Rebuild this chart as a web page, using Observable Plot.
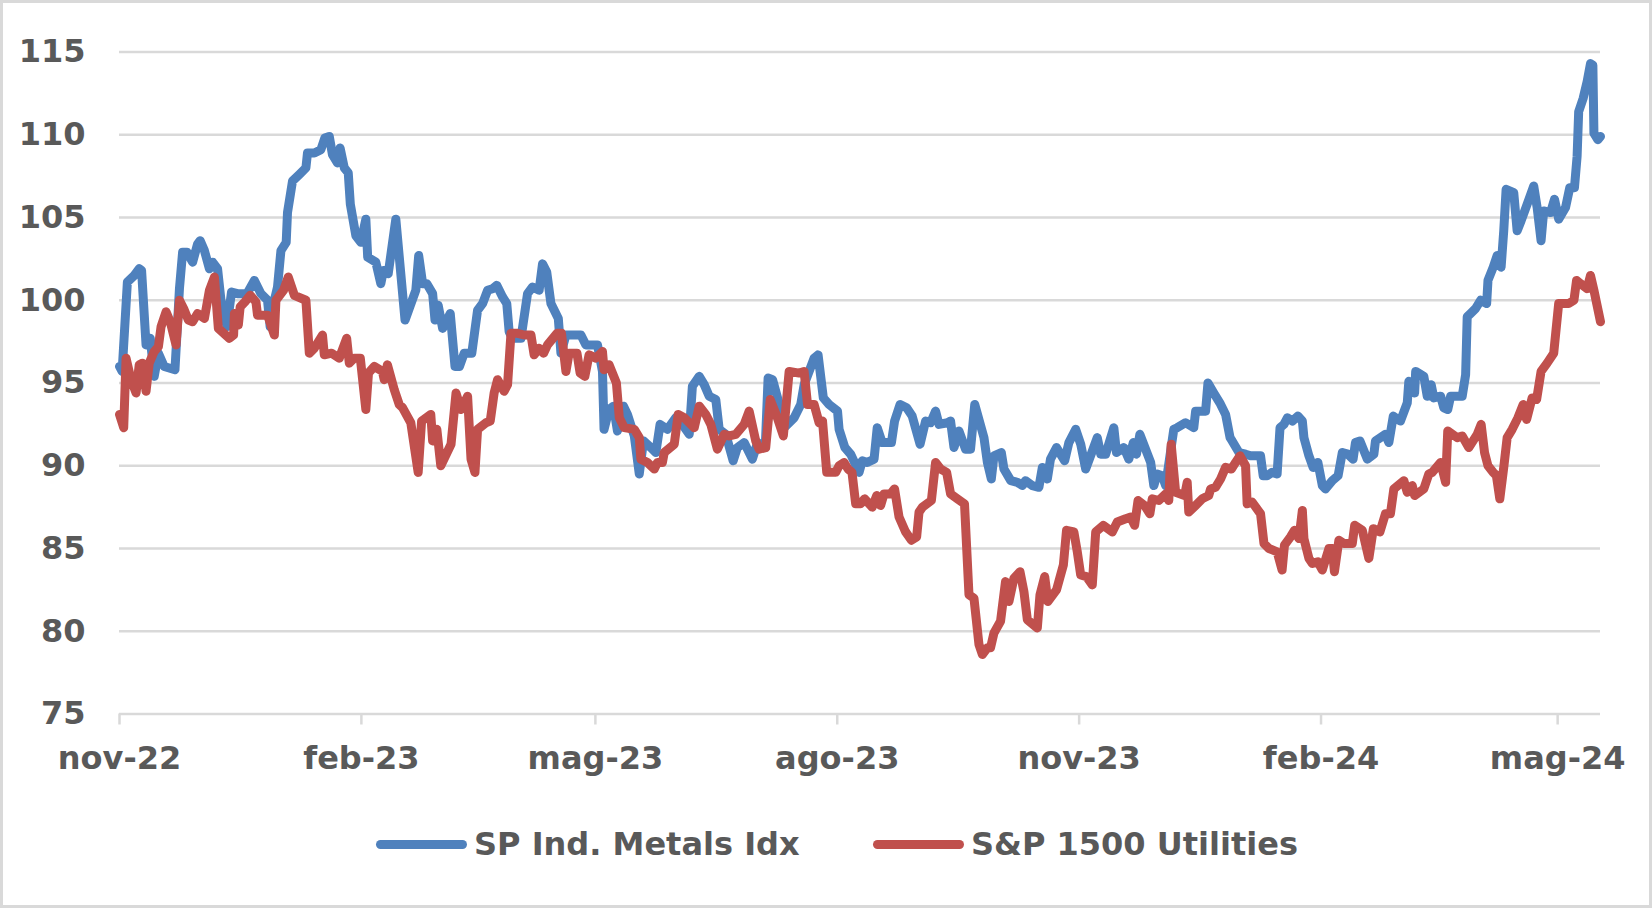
<!DOCTYPE html>
<html>
<head>
<meta charset="utf-8">
<script src="https://cdn.jsdelivr.net/npm/d3@7"></script>
<script src="https://cdn.jsdelivr.net/npm/@observablehq/plot@0.6"></script>
<style>
  html, body { margin: 0; padding: 0; background: #ffffff; }
  #wrap { position: relative; width: 1652px; height: 908px; overflow: hidden; font-family: "DejaVu Sans", sans-serif; background: #fff; }
  #frame { position: absolute; left: 0; top: 0; width: 1652px; height: 908px; box-sizing: border-box; border: 3px solid #d9d9d9; pointer-events: none; }
  #chart svg { display: block; }
  #legend { position: relative; width: 1652px; height: 108px; }
  .item { position: absolute; top: 28px; height: 32px; display: flex; align-items: center; font-size: 32px; font-weight: bold; color: #595959; line-height: 32px; white-space: nowrap; }
  .sw { display: inline-block; width: 91px; height: 9px; border-radius: 4.5px; margin-right: 7px; }
</style>
</head>
<body>
<div id="wrap">
  <div id="chart"></div>
  <div id="legend"></div>
  <div id="frame"></div>
</div>
<script>
// Days since 2022-11-01 and index value
const startDate = "2022-11-01";
const metals = [[0,96.0],[1,95.7],[3,101.1],[5.6,101.5],[7.5,101.9],[8.4,101.8],[10.1,97.3],[11.7,97.7],[13.2,95.4],[14.8,96.8],[17,96.0],[21.1,95.8],[22.8,100.7],[24,102.9],[25.7,102.9],[27.8,102.3],[29.7,103.4],[30.7,103.6],[32.3,103.0],[34.2,101.9],[35.4,102.3],[37.3,101.9],[38.6,100.0],[40.9,98.4],[42.6,100.5],[44.9,100.4],[48.5,100.4],[51.3,101.2],[53.8,100.4],[56.3,100.0],[57.3,98.4],[58.9,100.0],[60.1,100.8],[61.4,103.0],[63.4,103.5],[63.9,105.3],[65.8,107.2],[68.4,107.6],[70.9,108.0],[71.5,108.9],[74.1,108.9],[76.6,109.1],[78.1,109.8],[79.8,109.9],[81,108.8],[82.9,108.3],[83.9,109.2],[85.5,108.0],[87,107.7],[87.8,105.8],[89.9,103.9],[91.8,103.5],[93.7,104.9],[94.4,102.6],[97.5,102.3],[99.4,101.0],[100.4,101.8],[102.2,101.6],[105.1,104.9],[108.6,98.8],[112.7,100.6],[113.8,102.7],[115.3,101.0],[116.9,101.0],[119.1,100.4],[120,98.8],[121.2,99.7],[122.9,98.3],[125.8,99.2],[127.6,96.0],[129.3,96.0],[131.1,96.8],[134,96.8],[136.2,99.4],[138.1,99.8],[140,100.6],[141.9,100.7],[143.5,100.9],[145.7,100.2],[147.3,99.8],[148.2,98.1],[149.5,97.7],[152.7,97.7],[155.2,100.4],[157.1,100.8],[159.6,100.6],[160.9,102.2],[162.5,101.7],[164.1,99.8],[166.9,98.9],[167.9,96.8],[169.8,97.9],[175.5,97.9],[177.4,97.3],[181.8,97.3],[183.7,95.7],[184.3,92.2],[186.2,93.4],[187.9,93.6],[189.4,92.1],[191.7,93.6],[193.2,93.1],[195.8,91.8],[197.7,89.5],[199.3,91.5],[202.1,91.1],[204,90.8],[205.6,92.5],[208.4,92.2],[211.6,92.9],[214.1,92.5],[216.7,91.9],[217.9,94.8],[220.5,95.4],[222.4,94.9],[224.3,94.2],[226.8,94.0],[228.1,92.2],[230.6,91.9],[233.4,90.3],[235,91.1],[237.6,91.4],[240.7,90.4],[242.7,91.4],[245.6,91.1],[246.7,95.3],[248.4,95.2],[250.3,94.1],[252.2,92.2],[254.1,92.5],[256.6,92.9],[259.1,93.7],[260.4,94.9],[264.2,96.5],[265.7,96.7],[267.7,94.1],[269.9,93.7],[273.1,93.3],[273.7,92.2],[275.9,91.1],[278.1,90.7],[281.3,89.6],[282.5,90.3],[284.4,90.2],[287,90.4],[288.2,92.3],[290.1,91.4],[293.6,91.4],[294.8,92.7],[296.9,93.7],[299.4,93.5],[301.5,93.0],[304.5,91.3],[306.6,92.7],[308.5,92.6],[310.4,93.3],[311.7,92.5],[314.9,92.6],[316.1,92.7],[317.4,91.1],[319.3,92.1],[321.8,91.0],[323.7,91.0],[325.3,93.7],[328.8,91.7],[330.1,90.2],[331.6,89.2],[332.6,90.6],[335.4,90.8],[336.4,89.8],[339,89.1],[341.5,89.0],[343.4,88.8],[344.6,89.1],[347.2,88.8],[349.7,88.7],[351,89.9],[352.9,89.2],[354.1,90.4],[356.4,91.1],[359.5,90.3],[361.1,91.4],[363.7,92.2],[365.6,91.3],[367.5,89.8],[371.9,91.7],[373.2,90.7],[375.1,90.7],[378.2,92.3],[379.2,90.8],[382,91.1],[383.9,90.4],[385.6,91.4],[386.8,90.7],[388.1,91.9],[392.2,90.2],[393.4,88.8],[394.7,89.5],[396.6,89.4],[397.9,88.8],[401,92.2],[402.3,92.3],[405.5,92.6],[408.6,92.3],[409.3,93.3],[413.1,93.3],[414,95.0],[416.2,94.4],[418.5,93.8],[420.7,93.1],[422.4,91.7],[423.2,91.5],[425.8,90.8],[428.3,90.7],[430.2,90.6],[434,90.6],[435,89.4],[436.5,89.4],[438.4,89.6],[440.3,89.5],[441.4,92.3],[442.9,92.5],[444.2,92.9],[446.1,92.7],[448.2,93.0],[449.9,92.7],[450.5,91.7],[452.4,90.6],[454,89.9],[455.8,90.2],[457.5,88.8],[458.7,88.6],[461.3,89.1],[463.5,89.4],[465.1,90.8],[467.2,90.7],[469.2,90.4],[470.1,91.4],[471.8,91.5],[474.6,90.4],[477.1,90.7],[477.7,91.5],[481.5,91.9],[482.8,91.4],[484.5,93.0],[487.2,92.7],[489.8,93.8],[490.4,95.1],[492.6,94.4],[493,95.7],[496.1,95.4],[497.4,94.2],[498.9,94.9],[499.9,94.1],[502.5,94.2],[503.7,93.5],[505.2,93.4],[506.3,94.2],[510.7,94.2],[512,95.5],[512.6,99.0],[513.9,99.2],[515.8,99.5],[517.7,100.0],[520,99.8],[520.5,101.2],[522.5,102.0],[524,102.7],[525.5,102.0],[526.5,104.2],[527.4,106.7],[530.3,106.5],[531.6,104.2],[533.1,104.8],[535.4,105.8],[537.9,106.9],[539.2,105.6],[540.7,103.6],[541.7,105.4],[544.3,105.3],[545.8,106.1],[547.4,104.9],[550,105.6],[551.6,106.8],[553.4,106.8],[554.4,108.7],[555,111.4],[556.7,112.2],[558.2,113.2],[559.5,114.3],[560.4,114.2],[560.8,110.1],[562.3,109.7],[563.3,109.9]];

const utilities = [[0,93.1],[1.6,92.3],[2.5,96.5],[4.4,95.2],[6.3,94.4],[7.5,96.1],[8.8,96.2],[10.1,94.5],[11.3,96.2],[13.2,96.9],[14.8,97.2],[15.8,98.4],[17.7,99.3],[19.3,98.7],[21.5,97.3],[22.8,100.0],[24.4,99.5],[26.2,98.8],[27.8,98.7],[29.7,99.2],[32.3,98.9],[34.2,100.6],[36.1,101.4],[37.6,98.3],[41.8,97.7],[43.4,97.9],[43.7,99.2],[45.2,98.5],[45.9,99.6],[47.7,99.9],[49.7,100.3],[51.9,99.9],[52.5,99.1],[56.3,99.1],[58.9,97.9],[59.5,100.0],[62.4,100.6],[64.2,101.4],[66.5,100.3],[70.9,100.0],[72.2,96.8],[74.1,97.1],[77.2,97.9],[77.9,96.7],[80.7,96.8],[83.6,96.5],[86.4,97.7],[87.4,96.2],[89.3,96.5],[91.6,96.5],[93.7,93.4],[94.7,95.6],[96.9,96.0],[100,95.7],[100.7,95.2],[101.9,96.1],[104.5,94.6],[106.4,93.7],[107.7,93.5],[110.8,92.6],[113.6,89.6],[114.9,92.7],[118.4,93.1],[119.1,91.5],[120.7,92.2],[122.2,90.0],[126.1,91.3],[128,94.4],[129.9,93.4],[132.4,94.2],[133.7,90.4],[135.2,89.6],[136.2,92.2],[139.4,92.6],[141,92.7],[142.5,94.4],[143.8,95.2],[146.3,94.5],[147.6,94.9],[148.9,98.0],[151.4,98.0],[153.9,97.9],[156.5,97.9],[157.7,96.7],[159.6,97.1],[161.3,96.8],[162.8,97.3],[166.4,98.0],[168.1,98.0],[169.8,95.7],[171,96.8],[174,96.8],[175.2,95.6],[177,95.4],[178.6,96.7],[181.2,96.5],[183.7,96.9],[184.3,95.8],[186.2,96.1],[189,95.0],[190.1,92.9],[192,92.3],[195.8,92.2],[197.7,91.7],[198.3,90.4],[200.8,90.2],[203.4,89.8],[204.6,90.2],[206.5,90.2],[207.2,90.8],[211,91.3],[212.5,93.1],[214.8,92.9],[218.6,92.3],[220.5,93.6],[223,93.1],[224.9,92.5],[227.4,91.0],[230,91.9],[231.9,91.8],[234.4,91.9],[237.6,92.5],[239.5,93.3],[242,91.5],[243.3,91.0],[245.8,91.1],[247.5,94.0],[250,93.0],[252.5,91.8],[254.7,95.7],[258.5,95.6],[260.4,95.7],[261.7,93.7],[264.2,93.7],[266.1,92.6],[267.4,92.7],[269,89.6],[272.4,89.6],[273.7,90.0],[275.6,90.2],[277.1,89.8],[278.6,89.6],[280,87.7],[281.9,87.7],[283.4,88.0],[286.3,87.5],[288,88.2],[289.5,87.6],[290.8,88.3],[293.3,88.3],[294.8,88.6],[296.5,86.9],[299,86.0],[301.2,85.5],[303.2,85.7],[304.1,87.2],[305.4,87.5],[308.8,87.9],[310.4,90.2],[312.3,89.8],[314.6,89.6],[316.1,88.3],[318.7,88.0],[321.4,87.7],[323.1,82.2],[325,82.0],[326.9,79.2],[328.2,78.6],[330.1,79.0],[331.3,79.0],[332.6,79.9],[335.1,80.6],[337,83.0],[338.3,81.8],[340.2,83.2],[342.5,83.6],[344,82.4],[345.3,80.7],[349.1,80.2],[350.1,82.2],[351.9,83.3],[353.1,81.8],[356.4,82.5],[359,84.0],[360.2,86.1],[363,86.0],[364.3,84.8],[365.6,83.4],[367.8,83.3],[370,82.8],[371.3,86.0],[374.2,86.4],[377.6,86.0],[379.5,86.6],[382.7,86.8],[384.6,86.9],[386.1,86.4],[387.4,87.9],[389.9,87.6],[391.9,87.1],[392.8,88.0],[395.3,87.9],[397.9,88.3],[399.1,87.9],[400,91.3],[401.7,88.4],[405.1,88.2],[406.1,89.0],[406.7,87.2],[409.3,87.6],[411.8,88.0],[414.3,88.2],[415,88.6],[416.9,88.7],[418.8,89.2],[420.7,89.9],[422.9,89.8],[424.5,90.2],[426.2,90.6],[428.3,90.0],[428.9,87.7],[430.8,87.8],[434,87.1],[435.3,85.3],[437.2,85.0],[440.3,84.8],[442.2,83.7],[443.1,85.2],[445.4,85.7],[446.9,86.1],[448.6,85.6],[449.9,87.3],[450.5,85.6],[452.4,84.4],[453.7,84.1],[455.8,84.2],[457.5,83.7],[460,85.0],[461.3,85.0],[462.1,83.6],[463.8,85.5],[465.7,85.3],[468.9,85.3],[469.8,86.4],[472.7,86.1],[475.2,84.4],[476.9,86.2],[479.4,86.0],[481.5,87.1],[483.4,87.1],[484.7,88.6],[488.5,89.1],[489.8,88.4],[491.7,88.8],[492.6,88.2],[496.1,88.6],[498,89.5],[499.3,89.6],[502.5,90.2],[504.4,89.0],[505.2,92.1],[508.8,91.7],[510.7,91.8],[513.2,91.1],[516.4,91.9],[517.9,92.5],[519.2,90.8],[520.5,90.0],[522.5,89.6],[523.7,89.4],[525,88.0],[526.5,89.9],[527.8,91.7],[529.7,92.2],[531.9,92.9],[533.9,93.7],[535.2,92.8],[537.3,94.1],[539,94.0],[540.7,95.7],[543,96.2],[545.5,96.8],[547.4,99.8],[549.3,99.8],[551.2,99.8],[553.2,100.0],[554.2,101.2],[555.7,101.0],[558.2,100.7],[559.5,101.5],[560.8,100.6],[563.3,98.7]];

const seriesNames = ["SP Ind. Metals Idx", "S&P 1500 Utilities"];
const seriesColors = ["#4f81bd", "#c0504d"];
const yTicks = [75, 80, 85, 90, 95, 100, 105, 110, 115];
const xTickDates = ["2022-11-01", "2023-02-01", "2023-05-01", "2023-08-01", "2023-11-01", "2024-02-01", "2024-05-01"];
const xTickLabels = ["nov-22", "feb-23", "mag-23", "ago-23", "nov-23", "feb-24", "mag-24"];

const t0 = new Date(startDate + "T00:00:00Z").getTime();
const toDate = d => new Date(t0 + d * 864e5);
const rowsOf = (pairs, name) => pairs.map(([d, v]) => ({date: toDate(d), value: v, series: name}));
const metalsRows = rowsOf(metals, seriesNames[0]);
const utilRows = rowsOf(utilities, seriesNames[1]);
const tickDates = xTickDates.map(s => new Date(s + "T00:00:00Z"));
const lastDay = metals[metals.length - 1][0];

const font = '"DejaVu Sans", sans-serif';
const chart = Plot.plot({
  width: 1652,
  height: 800,
  marginLeft: 119,
  marginRight: 52,
  marginTop: 51.5,
  marginBottom: 86.5,
  style: {fontFamily: font, background: "transparent", overflow: "visible"},
  x: {type: "utc", domain: [toDate(0), toDate(lastDay)], axis: null},
  y: {domain: [75, 115], axis: null},
  marks: [
    Plot.gridY(yTicks, {stroke: "#d9d9d9", strokeOpacity: 1, strokeWidth: 2.5}),
    Plot.axisY(yTicks, {label: null, tickSize: 0, tickPadding: 34, fontSize: 32, fontWeight: "bold", fill: "#595959", tickFormat: d => String(d)}),
    Plot.axisX(tickDates, {
      label: null, tickSize: 11, tickPadding: 21, stroke: "#d9d9d9", strokeWidth: 2.5, strokeOpacity: 1,
      fill: "#595959", fontSize: 32, fontWeight: "bold",
      tickFormat: d => xTickLabels[tickDates.findIndex(t => +t === +d)]
    }),
    Plot.line(metalsRows, {x: "date", y: "value", stroke: seriesColors[0], strokeWidth: 9, strokeLinejoin: "round", strokeLinecap: "round"}),
    Plot.line(utilRows, {x: "date", y: "value", stroke: seriesColors[1], strokeWidth: 9, strokeLinejoin: "round", strokeLinecap: "round"})
  ]
});
document.getElementById("chart").appendChild(chart);

const legend = document.getElementById("legend");
const lefts = [376, 873];
seriesNames.forEach((name, i) => {
  const item = document.createElement("div");
  item.className = "item";
  item.style.left = lefts[i] + "px";
  const sw = document.createElement("span");
  sw.className = "sw";
  sw.style.background = seriesColors[i];
  const label = document.createElement("span");
  label.textContent = name;
  item.appendChild(sw);
  item.appendChild(label);
  legend.appendChild(item);
});
</script>
</body>
</html>
